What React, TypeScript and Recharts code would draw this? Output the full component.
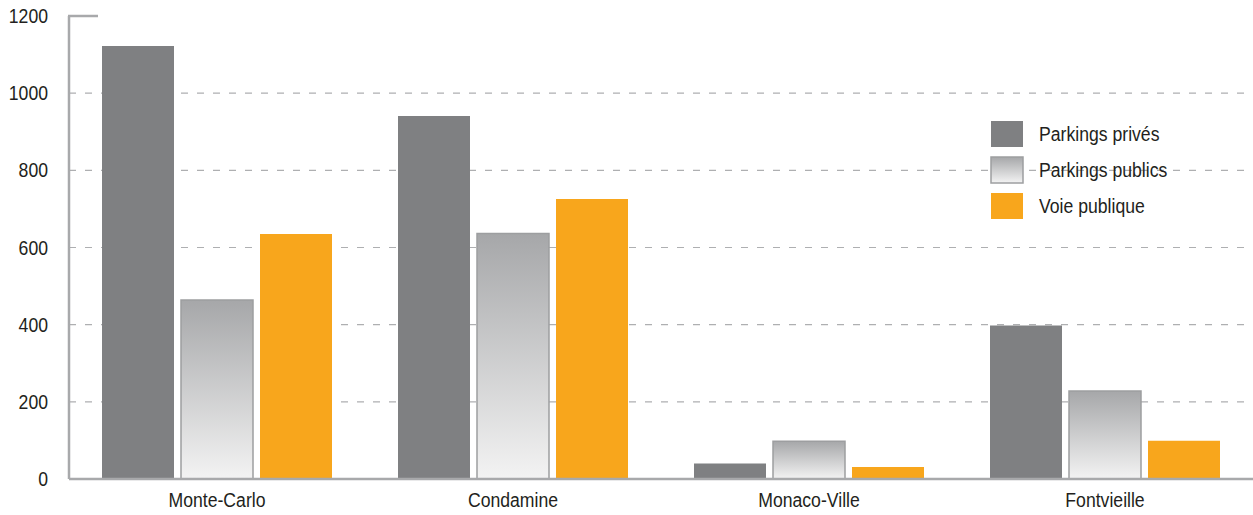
import React from "react";
import {
  Bar,
  BarChart,
  CartesianGrid,
  XAxis,
  YAxis
} from "recharts";

const categories: string[] = ["Monte-Carlo", "Condamine", "Monaco-Ville", "Fontvieille"];
const parkingsPrives: number[] = [1122, 941, 40, 398];
const parkingsPublics: number[] = [464, 636, 98, 228];
const voiePublique: number[] = [635, 726, 31, 99];
const yTicks: number[] = [0, 200, 400, 600, 800, 1000, 1200];

const seriesNames = {
  prives: "Parkings privés",
  publics: "Parkings publics",
  voie: "Voie publique",
};

const data = categories.map((name, i) => ({
  name,
  prives: parkingsPrives[i],
  publics: parkingsPublics[i],
  voie: voiePublique[i],
}));

// Arial metrics squeezed horizontally to look like the condensed face of the original
const FONT = "'Liberation Sans', Arial, sans-serif";
const SQUEEZE = 0.84;
const GREY = "#7f8082";
const ORANGE = "#f8a61c";
const AXIS = "#a8a9ab";

const NarrowText = ({ x, y, anchor, children }: any) => (
  <text
    transform={`translate(${x},${y}) scale(${SQUEEZE},1)`}
    textAnchor={anchor}
    fill="#231f20"
    fontSize={21}
    fontFamily={FONT}
  >
    {children}
  </text>
);

const YTick = (props: any) => {
  const { x, y, payload } = props;
  return (
    <g>
      <NarrowText x={x} y={y + 7} anchor="end">
        {payload.value}
      </NarrowText>
      {payload.value === 1200 && (
        <line x1={x + 20} x2={x + 50} y1={y} y2={y} stroke={AXIS} strokeWidth={2.5} />
      )}
    </g>
  );
};

const XTick = (props: any) => {
  const { x, y, payload } = props;
  return (
    <NarrowText x={x} y={y + 14} anchor="middle">
      {payload.value}
    </NarrowText>
  );
};

const LegendBox = () => {
  const items = [
    { key: "prives", fill: GREY, stroke: "none" },
    { key: "publics", fill: "url(#publicsLegendGrad)", stroke: "#9d9ea0" },
    { key: "voie", fill: ORANGE, stroke: "none" },
  ];
  return (
    <svg
      width={240}
      height={110}
      style={{ position: "absolute", left: 990, top: 120 }}
    >
      <defs>
        <linearGradient id="publicsLegendGrad" x1="0" y1="0" x2="0" y2="1">
          <stop offset="0%" stopColor="#a6a7a9" />
          <stop offset="100%" stopColor="#f3f3f3" />
        </linearGradient>
      </defs>
      {items.map((it, i) => (
        <g key={it.key}>
          <rect
            x={1}
            y={1 + i * 36}
            width={32}
            height={26}
            fill={it.fill}
            stroke={it.stroke}
            strokeWidth={1.5}
          />
          <NarrowText x={49} y={21 + i * 36} anchor="start">
            {seriesNames[it.key as keyof typeof seriesNames]}
          </NarrowText>
        </g>
      ))}
    </svg>
  );
};

const App: React.FC = () => {
  return (
    <div style={{ position: "absolute", left: 0, top: 0, width: 1253, height: 515, background: "#fff" }}>
      <BarChart
        width={1253}
        height={515}
        data={data}
        margin={{ top: 16, right: 0, left: 0, bottom: 0 }}
        barSize={72}
        barGap={7}
      >
        <defs>
          <linearGradient id="publicsGrad" x1="0" y1="0" x2="0" y2="1">
            <stop offset="0%" stopColor="#a6a7a9" />
            <stop offset="100%" stopColor="#f3f3f3" />
          </linearGradient>
        </defs>
        <CartesianGrid
          vertical={false}
          horizontalValues={[200, 400, 600, 800, 1000]}
          stroke="#aeafb1"
          strokeWidth={1.2}
          strokeDasharray="7 9"
        />
        <XAxis
          dataKey="name"
          height={36}
          tickLine={false}
          axisLine={{ stroke: AXIS, strokeWidth: 2.5 }}
          tickMargin={8}
          tick={<XTick />}
        />
        <YAxis
          width={69}
          domain={[0, 1200]}
          ticks={yTicks}
          interval={0}
          tickLine={false}
          tickSize={0}
          tickMargin={21}
          axisLine={{ stroke: AXIS, strokeWidth: 2.5 }}
          tick={<YTick />}
        />
        <Bar dataKey="prives" name={seriesNames.prives} fill={GREY} isAnimationActive={false} />
        <Bar
          dataKey="publics"
          name={seriesNames.publics}
          fill="url(#publicsGrad)"
          stroke="#9d9ea0"
          strokeWidth={1.5}
          isAnimationActive={false}
        />
        <Bar dataKey="voie" name={seriesNames.voie} fill={ORANGE} isAnimationActive={false} />
      </BarChart>
      <LegendBox />
    </div>
  );
};

export default App;
